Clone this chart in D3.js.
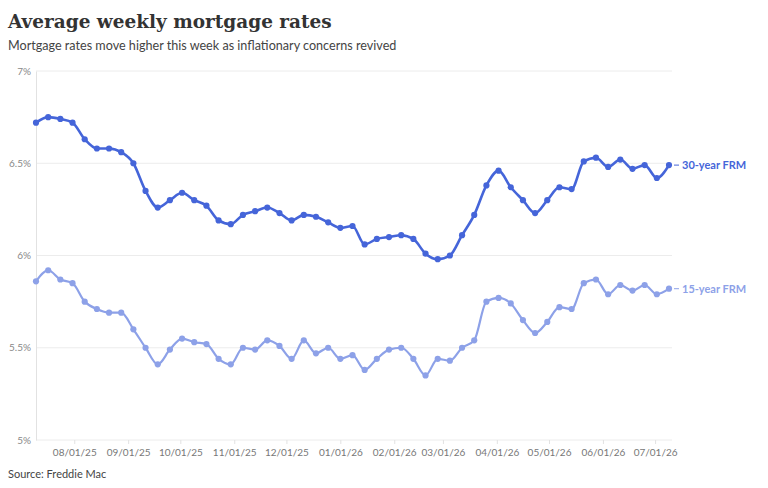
<!DOCTYPE html>
<html>
<head>
<meta charset="utf-8">
<script src="https://cdn.jsdelivr.net/npm/d3@7"></script>
<style>
  html, body { margin: 0; padding: 0; background: #fff; }
  svg { display: block; }
</style>
</head>
<body>
<script>
const startDate = "2025-07-10";
const weeks = 53;
const rate30 = [6.72,6.75,6.74,6.72,6.63,6.58,6.58,6.56,6.50,6.35,6.26,6.30,6.34,6.30,6.27,6.19,6.17,6.22,6.24,6.26,6.23,6.19,6.22,6.21,6.18,6.15,6.16,6.06,6.09,6.10,6.11,6.09,6.01,5.98,6.00,6.11,6.22,6.38,6.46,6.37,6.30,6.23,6.30,6.37,6.36,6.51,6.53,6.48,6.52,6.47,6.49,6.42,6.49];
const rate15 = [5.86,5.92,5.87,5.85,5.75,5.71,5.69,5.69,5.60,5.50,5.41,5.49,5.55,5.53,5.52,5.44,5.41,5.50,5.49,5.54,5.51,5.44,5.54,5.47,5.50,5.44,5.46,5.38,5.44,5.49,5.50,5.44,5.35,5.44,5.43,5.50,5.54,5.75,5.77,5.74,5.65,5.58,5.64,5.72,5.71,5.85,5.87,5.79,5.84,5.81,5.84,5.79,5.82];
const seriesNames = ["30-year FRM", "15-year FRM"];
const yTicks = [5, 5.5, 6, 6.5, 7];
const yTickLabels = ["5%", "5.5%", "6%", "6.5%", "7%"];
const xTickDates = ["2025-08-01","2025-09-01","2025-10-01","2025-11-01","2025-12-01","2026-01-01","2026-02-01","2026-03-01","2026-04-01","2026-05-01","2026-06-01","2026-07-01"];

const W = 768, H = 488;
const parse = d3.utcParse("%Y-%m-%d");
const t0 = parse(startDate);
const dates = d3.range(weeks).map(i => d3.utcDay.offset(t0, i * 7));

const svg = d3.select("body").append("svg").attr("width", W).attr("height", H);

const x = d3.scaleUtc().domain([dates[0], dates[dates.length - 1]]).range([36, 669]);
const y = d3.scaleLinear().domain([5, 7]).range([440, 71]);

// title
const title = svg.append("text").attr("x", 8).attr("y", 28)
  .attr("font-family", "'DejaVu Serif', serif").attr("font-weight", "bold")
  .attr("font-size", 20).attr("fill", "#333")
  .text("Average weekly mortgage rates");
const tw = title.node().getComputedTextLength();
title.attr("font-size", 20 * 324 / tw);

svg.append("text").attr("x", 8).attr("y", 50)
  .attr("font-family", "Lato, sans-serif").attr("font-size", 12.6).attr("fill", "#444")
  .text("Mortgage rates move higher this week as inflationary concerns revived");

// gridlines
svg.append("g").selectAll("line").data(yTicks).join("line")
  .attr("x1", 36).attr("x2", 672)
  .attr("y1", d => y(d)).attr("y2", d => y(d))
  .attr("stroke", "#ececec").attr("stroke-width", 1);

// y axis
const yAxis = d3.axisLeft(y).tickValues(yTicks)
  .tickFormat((d, i) => yTickLabels[i]).tickSize(0).tickPadding(5);
const gy = svg.append("g").attr("transform", "translate(36,0)").call(yAxis);
gy.select(".domain").attr("stroke", "#e2e2e2");
gy.selectAll("text").attr("font-family", "Lato, sans-serif").attr("font-size", 10).attr("fill", "#888");

// x axis
const xAxis = d3.axisBottom(x).tickValues(xTickDates.map(parse))
  .tickFormat(d3.utcFormat("%m/%d/%y")).tickSize(4).tickPadding(5);
const gx = svg.append("g").attr("transform", "translate(0,440)").call(xAxis);
gx.select(".domain").remove();
gx.selectAll("line").attr("stroke", "#e2e2e2");
gx.selectAll("text").attr("font-family", "Lato, sans-serif").attr("font-size", 10).attr("fill", "#777");

// series
const colors = ["#4565d9", "#8da1e8"];
const widths = [2.6, 2.2];
[rate30, rate15].forEach((vals, si) => {
  const data = vals.map((v, i) => ({ d: dates[i], v }));
  const line = d3.line().x(p => x(p.d)).y(p => y(p.v)).curve(d3.curveMonotoneX);
  svg.append("path").datum(data).attr("d", line)
    .attr("fill", "none").attr("stroke", colors[si]).attr("stroke-width", widths[si])
    .attr("stroke-linejoin", "round");
  svg.append("g").selectAll("circle").data(data).join("circle")
    .attr("cx", p => x(p.d)).attr("cy", p => y(p.v)).attr("r", 3.1)
    .attr("fill", colors[si]);
  const last = data[data.length - 1];
  svg.append("line").attr("x1", x(last.d) + 5).attr("x2", x(last.d) + 10)
    .attr("y1", y(last.v)).attr("y2", y(last.v))
    .attr("stroke", colors[si]).attr("stroke-width", 1);
  svg.append("text").attr("x", x(last.d) + 13).attr("y", y(last.v)).attr("dy", "0.35em")
    .attr("font-family", "Lato, sans-serif").attr("font-weight", "bold").attr("font-size", 11)
    .attr("fill", colors[si]).text(seriesNames[si]);
});

svg.append("text").attr("x", 8).attr("y", 478)
  .attr("font-family", "Lato, sans-serif").attr("font-size", 11).attr("fill", "#444")
  .text("Source: Freddie Mac");
</script>
</body>
</html>
